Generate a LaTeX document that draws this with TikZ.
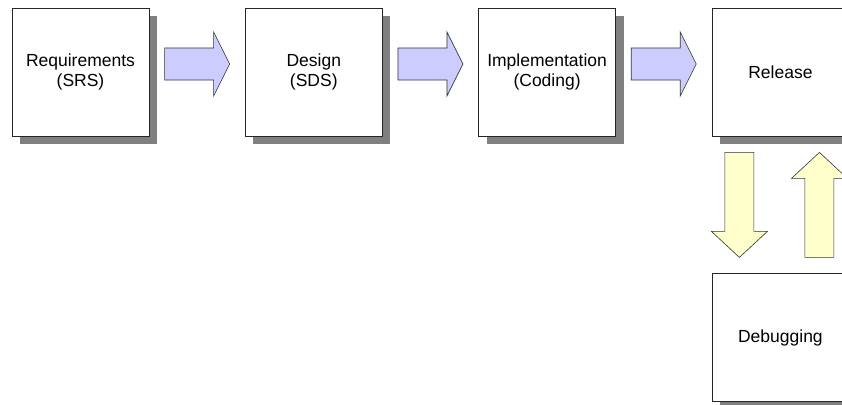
\documentclass[tikz,border=0pt]{standalone}
\usepackage{fontspec}
\setmainfont{Liberation Sans}
\usetikzlibrary{positioning,calc,shadows}
\definecolor{pfeilblau}{RGB}{204,204,255}
\definecolor{pfeilgelb}{RGB}{255,255,204}
\tikzset{
    font=\fontsize{17.5}{20}\selectfont,
    %Define style for boxes
    kasten/.style={
           rectangle,
           draw=black!85, line width=0.8pt,
           fill=white,
           minimum width=137pt,
           minimum height=128pt,
           align=center,
           drop shadow={shadow xshift=8pt,shadow yshift=-8pt,fill=black!50,opacity=1}},
    % Define outline of block arrows
    pfeilrand/.style={draw=black!80, line width=0.6pt, line join=miter},
    % Define block arrow, short (blue)
    hpfeil/.pic={
      \draw[pfeilrand,fill=pfeilblau] (-32.5,-16) -- (16.5,-16) -- (16.5,-32) -- (32.5,0)
        -- (16.5,32) -- (16.5,16) -- (-32.5,16) -- cycle;},
    % Define block arrow, long (yellow)
    vpfeil/.pic={
      \draw[pfeilrand,fill=pfeilgelb] (-52.5,-14.5) -- (26.5,-14.5) -- (26.5,-28) -- (52.5,0)
        -- (26.5,28) -- (26.5,14.5) -- (-52.5,14.5) -- cycle;}
}

\begin{document}
\begin{tikzpicture}[x=1pt,y=1pt]
  \path[use as bounding box] (0,0) rectangle (842,-404);
  \clip (0,0) rectangle (842,-404);
  \node[kasten] (req) at (80.5,-72) {Requirements\\(SRS)};
  \node[kasten] (des) [right=95.5pt of req] {Design\\(SDS)};
  \node[kasten] (impl) [right=95.5pt of des] {Implementation\\(Coding)};
  \node[kasten] (rel) [right=95.5pt of impl] {Release};
  \node[kasten] (dbg) [below=137pt of rel] {Debugging};
  \path ($(req.east)!0.5!(des.west)+(0,8)$) pic (p1) {hpfeil};
  \path ($(des.east)!0.5!(impl.west)+(0,8)$) pic (p2) {hpfeil};
  \path ($(impl.east)!0.5!(rel.west)+(0,8)$) pic (p3) {hpfeil};
  \path ($(rel.south)!0.5!(dbg.north)+(-41,0)$) pic[rotate=-90] (p4) {vpfeil};
  \path ($(rel.south)!0.5!(dbg.north)+(39,0)$) pic[rotate=90] (p5) {vpfeil};
\end{tikzpicture}
\end{document}
